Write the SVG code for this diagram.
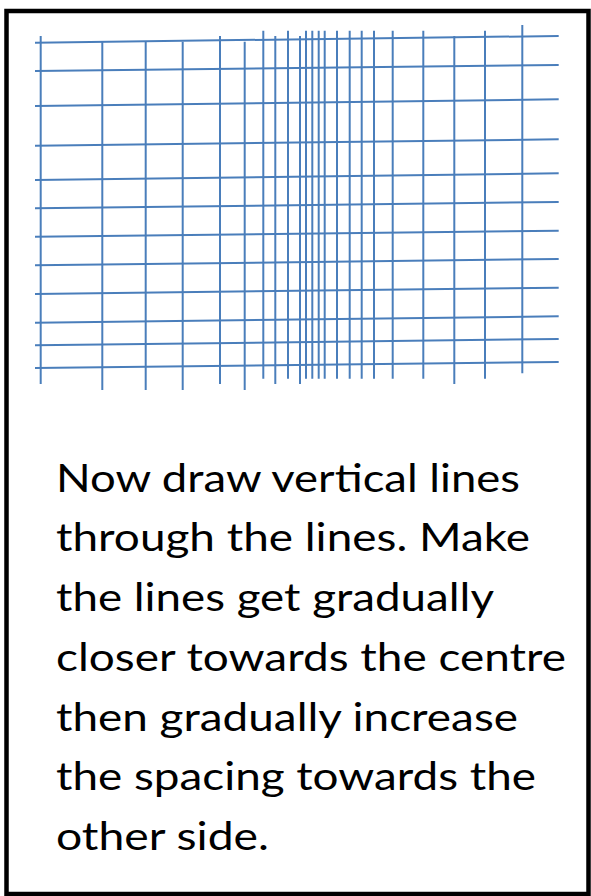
<svg xmlns="http://www.w3.org/2000/svg" width="591" height="896" viewBox="0 0 591 896">
<style>
.g line{stroke:#4a7ebb;stroke-width:2;fill:none}
.t{font-family:Lato,"Open Sans",sans-serif;font-size:38px;fill:#000}
</style>
<rect x="0" y="0" width="591" height="896" fill="#fff"/>
<rect id="frame" x="6.5" y="11" width="582" height="883" fill="none" stroke="#000" stroke-width="4.5"/>
<g id="grid" class="g">
<g id="horizontal">
<line x1="35" y1="42.7" x2="558.7" y2="36"/>
<line x1="35" y1="71" x2="558.7" y2="65"/>
<line x1="35" y1="106" x2="558.7" y2="99.3"/>
<line x1="35" y1="145.7" x2="558.7" y2="139.3"/>
<line x1="35" y1="180" x2="558.7" y2="173.3"/>
<line x1="35" y1="208.3" x2="558.7" y2="202"/>
<line x1="35" y1="236.7" x2="558.7" y2="230.7"/>
<line x1="35" y1="265.3" x2="558.7" y2="259"/>
<line x1="35" y1="294" x2="558.7" y2="287.7"/>
<line x1="35" y1="322.7" x2="558.7" y2="316.3"/>
<line x1="35" y1="345.3" x2="558.7" y2="339"/>
<line x1="35" y1="368" x2="558.7" y2="362"/>
</g>
<g id="vertical">
<line x1="40.7" y1="36" x2="40.7" y2="384"/>
<line x1="102.3" y1="41.7" x2="102.3" y2="390"/>
<line x1="145.7" y1="41.7" x2="145.7" y2="390"/>
<line x1="182.7" y1="41.7" x2="182.7" y2="390"/>
<line x1="220" y1="36" x2="220" y2="384"/>
<line x1="244.7" y1="41.7" x2="244.7" y2="390"/>
<line x1="263.3" y1="30.7" x2="263.3" y2="378.7"/>
<line x1="275.3" y1="36" x2="275.3" y2="384"/>
<line x1="288" y1="30.7" x2="288" y2="378.7"/>
<line x1="300" y1="36" x2="300" y2="384"/>
<line x1="306" y1="30.7" x2="306" y2="378.7"/>
<line x1="312.3" y1="30.7" x2="312.3" y2="378.7"/>
<line x1="318.7" y1="30.7" x2="318.7" y2="378.7"/>
<line x1="324.7" y1="30.7" x2="324.7" y2="378.7"/>
<line x1="337" y1="30.7" x2="337" y2="378.7"/>
<line x1="349.7" y1="30.7" x2="349.7" y2="378.7"/>
<line x1="361.7" y1="30.7" x2="361.7" y2="378.7"/>
<line x1="374" y1="30.7" x2="374" y2="378.7"/>
<line x1="392.7" y1="30.7" x2="392.7" y2="378.7"/>
<line x1="423.3" y1="30.7" x2="423.3" y2="378.7"/>
<line x1="454.3" y1="36" x2="454.3" y2="384"/>
<line x1="485" y1="30.7" x2="485" y2="378.7"/>
<line x1="522.3" y1="25" x2="522.3" y2="373.3"/>
</g>
</g>
<g id="caption" class="t">
<text x="56" y="491.7" textLength="464" lengthAdjust="spacingAndGlyphs">Now draw vertical lines</text>
<text x="56" y="551.4" textLength="474" lengthAdjust="spacingAndGlyphs">through the lines. Make</text>
<text x="56" y="611" textLength="438" lengthAdjust="spacingAndGlyphs">the lines get gradually</text>
<text x="56" y="670.8" textLength="510" lengthAdjust="spacingAndGlyphs">closer towards the centre</text>
<text x="56" y="730.5" textLength="462" lengthAdjust="spacingAndGlyphs">then gradually increase</text>
<text x="56" y="790" textLength="480" lengthAdjust="spacingAndGlyphs">the spacing towards the</text>
<text x="56" y="850" textLength="213" lengthAdjust="spacingAndGlyphs">other side.</text>
</g>
</svg>
